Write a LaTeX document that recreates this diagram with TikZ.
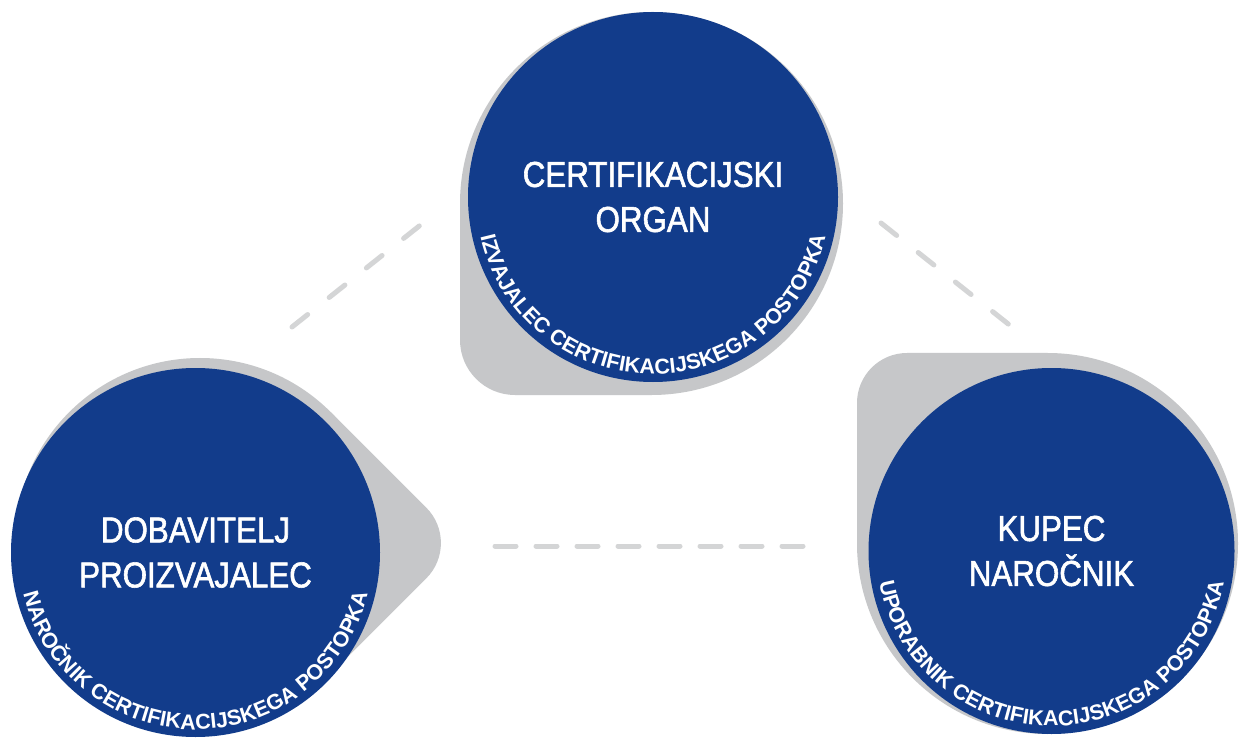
\documentclass[tikz,border=0pt]{standalone}
\usepackage{fontspec}
\setmainfont{Liberation Sans}
\newfontfamily\condfont{Liberation Sans}[FakeStretch=0.87,FakeBold=1.6]
\usetikzlibrary{decorations.text}
\definecolor{cblue}{RGB}{18,60,139}
\definecolor{cgray}{RGB}{198,199,201}
\definecolor{cdash}{RGB}{212,213,214}
\tikzset{
  shadowfill/.style={fill=cgray},
  bluecirc/.style={circle, fill=cblue, inner sep=0pt, minimum size=#1, text=white,
    align=center, font=\condfont\fontsize{36}{45}\selectfont},
  linkdiag/.style={draw=cdash, line width=5pt, line cap=round, dash pattern=on 20pt off 27.5pt},
  linkflat/.style={draw=cdash, line width=5pt, line cap=round, dash pattern=on 21pt off 20pt}
}
\newcommand\teardrop[5]{%
  \begin{scope}[shift={(#1,#2)}, rotate=#4]
    \fill[shadowfill] (0,0) circle[radius=#3];
    \fill[shadowfill] (0,0) -- (-#3,0) -- (-#3,{-#3+#5})
      arc[start angle=180, end angle=270, radius=#5] -- (0,-#3) -- cycle;
  \end{scope}}
\newcommand\arctext[3]{%
  \path[decorate, decoration={text along path, text align=center, text color=white,
      text={|\bfseries\fontsize{21.5}{21.5}\selectfont|#3}}]
    (#1) ++(180:#2) arc[start angle=180, end angle=360, radius=#2];}
\begin{document}
\begin{tikzpicture}[x=1pt,y=1pt]
\useasboundingbox[fill=white] (0,0) rectangle (1239,740);

% grey teardrop shadows
\teardrop{651.5}{536.5}{191.5}{0}{55}
\teardrop{200}{197}{185}{135}{50}
\teardrop{1047.5}{196.5}{190.5}{-90}{50}

% dashed links
\coordinate (tl1) at (292,413);
\coordinate (tl2) at (423,517);
\coordinate (tr1) at (881,517);
\coordinate (tr2) at (1012,413);
\coordinate (b1) at (495,194);
\coordinate (b2) at (808,194);
\draw[linkdiag] (tl1) -- (tl2);
\draw[linkdiag] (tr1) -- (tr2);
\draw[linkflat] (b1) -- (b2);

% blue circles
\node[bluecirc=370pt] (co) at (653,543) {CERTIFIKACIJSKI\\ORGAN};
\node[bluecirc=369pt] (dp) at (195.5,187.5) {DOBAVITELJ\\PROIZVAJALEC};
\node[bluecirc=366pt] (kn) at (1051.5,189) {KUPEC\\NAROČNIK};

% curved labels
\arctext{co.center}{177}{IZVAJALEC CERTIFIKACIJSKEGA POSTOPKA}
\arctext{dp.center}{177}{NAROČNIK CERTIFIKACIJSKEGA POSTOPKA}
\arctext{kn.center}{175}{UPORABNIK CERTIFIKACIJSKEGA POSTOPKA}
\end{tikzpicture}
\end{document}
